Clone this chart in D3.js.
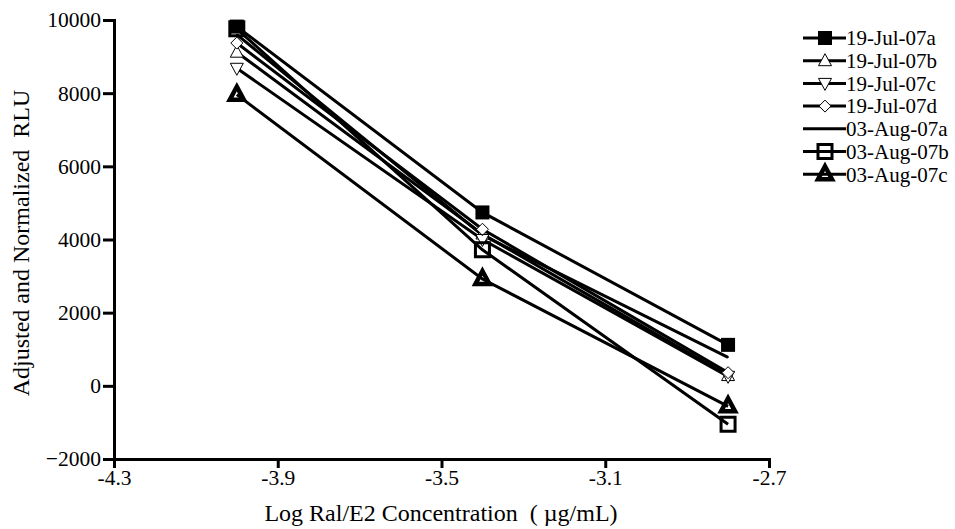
<!DOCTYPE html>
<html>
<head>
<meta charset="utf-8">
<script src="https://cdn.jsdelivr.net/npm/d3@7"></script>
<style>
  body { margin: 0; background: #fff; }
  svg text { font-family: "Liberation Serif", "Times New Roman", serif; }
</style>
</head>
<body>
<div id="chart"></div>
<script>
// data
var xValues = [-4.0, -3.4, -2.8];
var seriesNames = ["19-Jul-07a", "19-Jul-07b", "19-Jul-07c", "19-Jul-07d", "03-Aug-07a", "03-Aug-07b", "03-Aug-07c"];
var jul07a = [9820, 4740, 1120];
var jul07b = [9120, 4150, 280];
var jul07c = [8680, 4000, 260];
var jul07d = [9370, 4280, 360];
var aug07a = [9600, 4120, 780];
var aug07b = [9760, 3720, -1050];
var aug07c = [7960, 2920, -560];
var xTicks = [-4.3, -3.9, -3.5, -3.1, -2.7];
var yTicks = [-2000, 0, 2000, 4000, 6000, 8000, 10000];

var seriesValues = [jul07a, jul07b, jul07c, jul07d, aug07a, aug07b, aug07c];
var markers = ["fsquare", "otri", "odown", "odiamond", "dot", "osquare", "ftri"];

var width = 955, height = 529;
var plot = { left: 114, right: 769, top: 20, bottom: 459 };

var svg = d3.select('#chart')
  .append('svg')
  .attr('width', width)
  .attr('height', height);

var x = d3.scaleLinear().domain([-4.3, -2.7]).range([plot.left, plot.right]);
var y = d3.scaleLinear().domain([-2000, 10000]).range([plot.bottom, plot.top]);

// axes
var yAxis = svg.append('g')
  .attr('transform', 'translate(' + plot.left + ',0)')
  .call(d3.axisLeft(y).tickValues(yTicks).tickSize(11).tickSizeOuter(0).tickPadding(2).tickFormat(d3.format('d')));
var xAxis = svg.append('g')
  .attr('transform', 'translate(0,' + plot.bottom + ')')
  .call(d3.axisBottom(x).tickValues(xTicks).tickSize(9).tickSizeOuter(0).tickPadding(2).tickFormat(function(d) { return d.toFixed(1); }));

[yAxis, xAxis].forEach(function(ax) {
  ax.attr('font-family', '"Liberation Serif", serif').attr('font-size', 21);
  ax.select('.domain').attr('stroke', '#000').attr('stroke-width', 3).attr('stroke-linecap', 'square');
  ax.selectAll('.tick line').attr('stroke', '#000').attr('stroke-width', 3);
  ax.selectAll('.tick text')
    .attr('fill', '#000')
    .style('font-family', '"Liberation Serif", serif')
    .style('font-size', '21.5px');
});

// axis titles
svg.append('text')
  .attr('x', 441)
  .attr('y', 521)
  .attr('text-anchor', 'middle')
  .style('font-size', '24px')
  .style('white-space', 'pre')
  .text('Log Ral/E2 Concentration  ( \u00b5g/mL)');

svg.append('text')
  .attr('transform', 'translate(29,243) rotate(-90)')
  .attr('text-anchor', 'middle')
  .style('font-size', '24px')
  .style('white-space', 'pre')
  .text('Adjusted and Normalized  RLU');

// marker drawing
function drawMarker(g, type, cx, cy) {
  if (type === 'fsquare') {
    g.append('rect').attr('x', cx - 7).attr('y', cy - 7).attr('width', 14).attr('height', 14).attr('fill', '#000');
  } else if (type === 'osquare') {
    g.append('rect').attr('x', cx - 7).attr('y', cy - 7).attr('width', 14).attr('height', 14)
      .attr('fill', 'none').attr('stroke', '#000').attr('stroke-width', 3);
  } else if (type === 'otri') {
    g.append('path').attr('d', 'M' + cx + ',' + (cy - 7) + 'L' + (cx + 6.5) + ',' + (cy + 5) + 'L' + (cx - 6.5) + ',' + (cy + 5) + 'Z')
      .attr('fill', '#fff').attr('stroke', '#000').attr('stroke-width', 1);
  } else if (type === 'odown') {
    g.append('path').attr('d', 'M' + cx + ',' + (cy + 7) + 'L' + (cx + 6.5) + ',' + (cy - 5) + 'L' + (cx - 6.5) + ',' + (cy - 5) + 'Z')
      .attr('fill', '#fff').attr('stroke', '#000').attr('stroke-width', 1);
  } else if (type === 'odiamond') {
    g.append('path').attr('d', 'M' + cx + ',' + (cy - 6) + 'L' + (cx + 6) + ',' + cy + 'L' + cx + ',' + (cy + 6) + 'L' + (cx - 6) + ',' + cy + 'Z')
      .attr('fill', '#fff').attr('stroke', '#000').attr('stroke-width', 1);
  } else if (type === 'ftri') {
    g.append('path').attr('d', 'M' + cx + ',' + (cy - 8) + 'L' + (cx + 7) + ',' + (cy + 5) + 'L' + (cx - 7) + ',' + (cy + 5) + 'Z')
      .attr('fill', 'none').attr('stroke', '#000').attr('stroke-width', 4.5).attr('stroke-linejoin', 'miter');
  } else if (type === 'dot') {
    g.append('circle').attr('cx', cx).attr('cy', cy).attr('r', 0.8).attr('fill', '#000');
  }
}

var line = d3.line()
  .x(function(d, i) { return x(xValues[i]); })
  .y(function(d) { return y(d); });

var series = svg.append('g').attr('class', 'series');

// lines first
seriesValues.forEach(function(vals) {
  series.append('path')
    .attr('d', line(vals))
    .attr('fill', 'none')
    .attr('stroke', '#000')
    .attr('stroke-width', 3);
});

// then markers
seriesValues.forEach(function(vals, s) {
  var g = series.append('g');
  vals.forEach(function(v, i) {
    drawMarker(g, markers[s], x(xValues[i]), y(v));
  });
});

// legend
var legend = svg.append('g').attr('class', 'legend');
seriesNames.forEach(function(name, i) {
  var ly = 38 + i * 22.7;
  var row = legend.append('g');
  row.append('line')
    .attr('x1', 803).attr('x2', 846)
    .attr('y1', ly).attr('y2', ly)
    .attr('stroke', '#000').attr('stroke-width', 3);
  drawMarker(row, markers[i], 825, ly);
  row.append('text')
    .attr('x', 846).attr('y', ly)
    .attr('dy', '0.35em')
    .style('font-size', '21px')
    .text(name);
});
</script>
</body>
</html>
